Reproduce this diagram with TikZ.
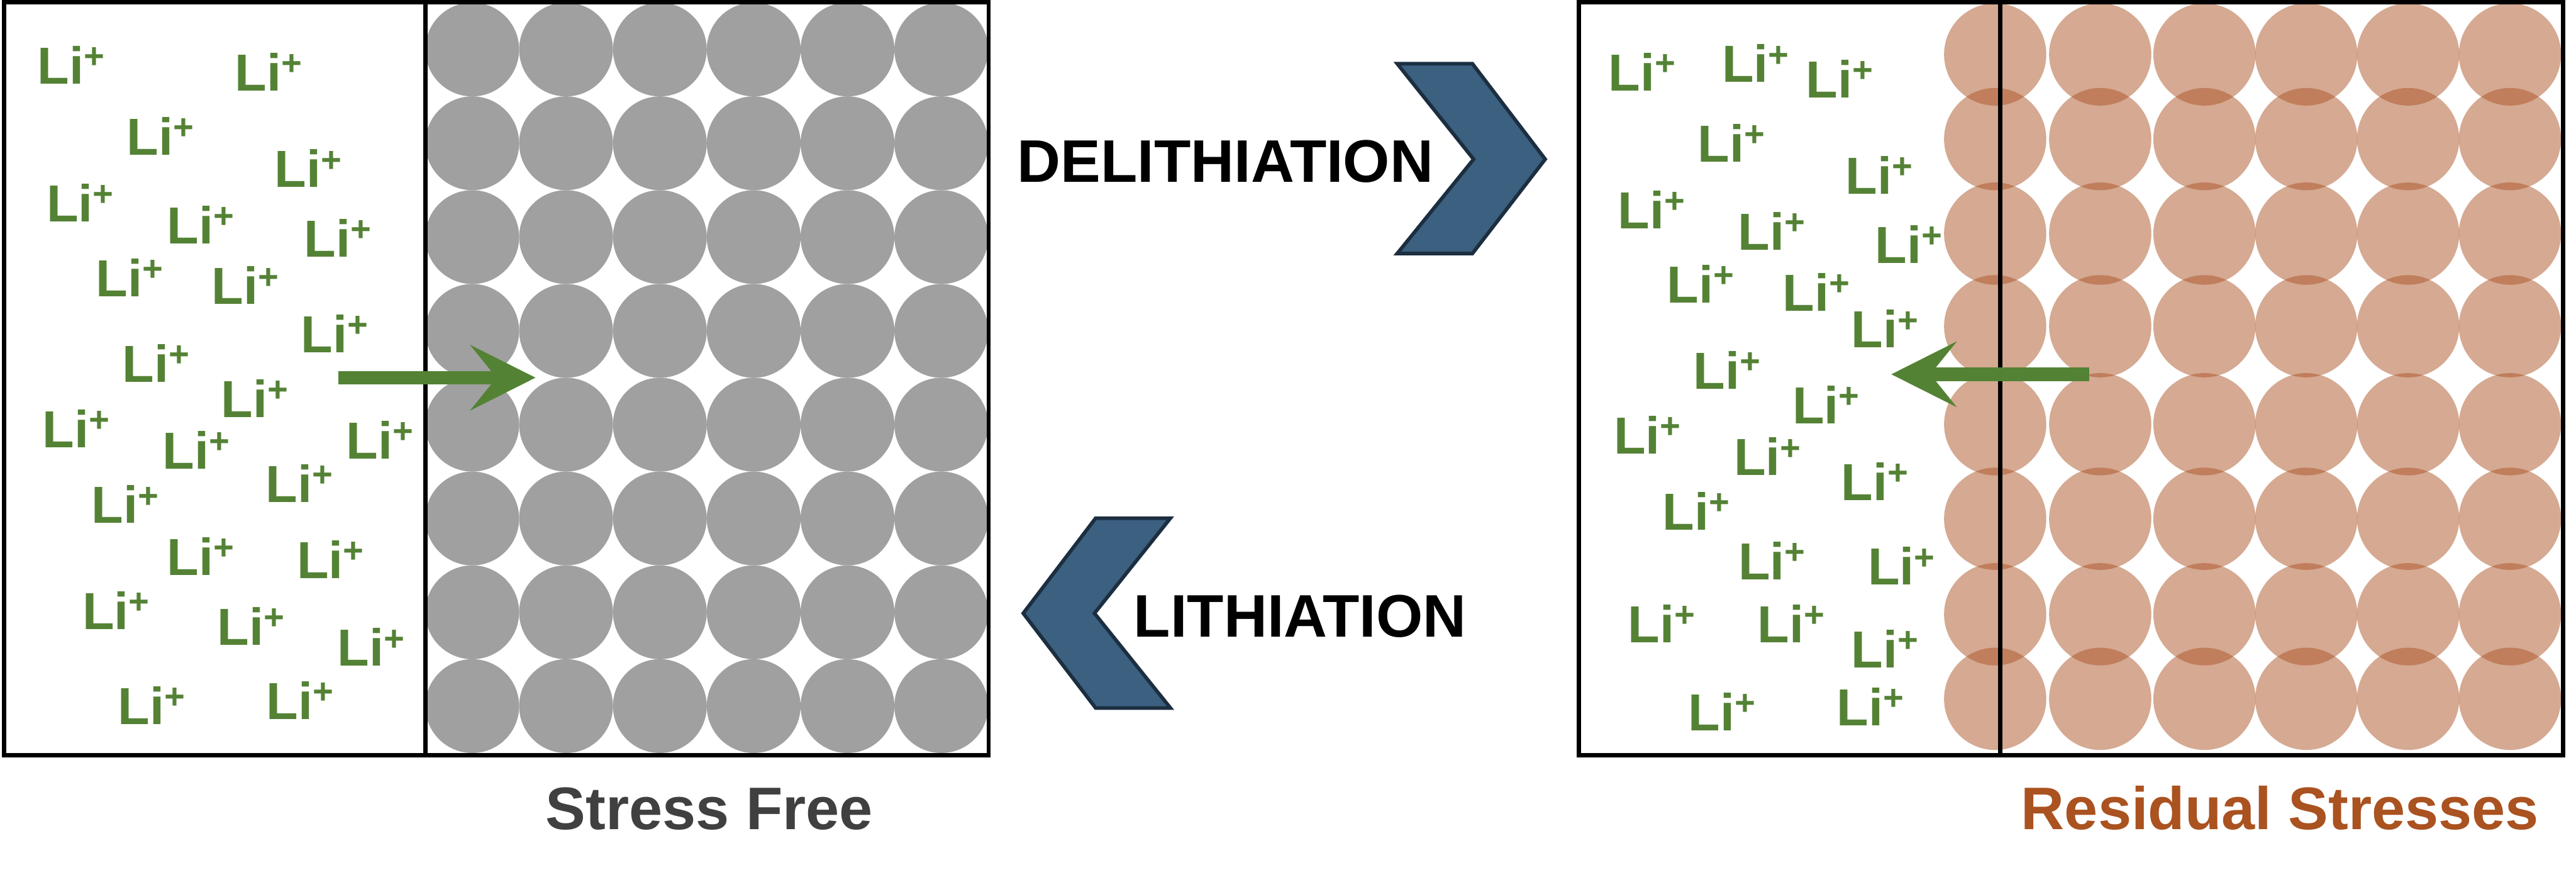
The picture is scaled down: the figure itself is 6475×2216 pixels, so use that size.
\documentclass[tikz,border=0pt]{standalone}
\usepackage{fontspec}
\setmainfont{Liberation Sans}
\usetikzlibrary{arrows.meta}
\definecolor{ligreen}{RGB}{84,130,53}
\definecolor{graycirc}{RGB}{160,160,160}
\definecolor{rust}{RGB}{171,84,38}
\definecolor{rusttext}{RGB}{170,82,32}
\definecolor{chevfill}{RGB}{59,96,128}
\definecolor{chevline}{RGB}{28,46,64}
\definecolor{sfgray}{RGB}{64,64,64}
\newcommand{\LiIon}{Li\raisebox{0.3em}{\fontsize{8.9pt}{8.9pt}\selectfont +}}
\begin{document}
\begin{tikzpicture}[x=0.1pt,y=-0.1pt,
  boxline/.style={draw=black,line width=1.1pt},
  li/.style={text=ligreen,font=\fontsize{13.1pt}{13.1pt}\selectfont\bfseries,inner sep=0pt,anchor=base west,xshift=-0.96pt},
  lab/.style={font=\fontsize{15.1pt}{15.1pt}\selectfont\bfseries,inner sep=0pt,anchor=base},
  chev/.style={fill=chevfill,draw=chevline,line width=0.9pt,line join=miter},
  ionarrow/.style={draw=ligreen,line width=3.4pt,-{Stealth[length=16.5pt,width=16.6pt,inset=6.7pt,line width=0pt]}},
  gcirc/.style={fill=graycirc},
  rcirc/.style={fill=rust,fill opacity=0.5}]
\useasboundingbox (0,0) rectangle (6475,2216);

% stress-free grid
\foreach \cx in {1187,1422.8,1658.6,1894.4,2130.2,2366}
  \foreach \cy in {124.3,360,595.7,831.4,1067,1302.8,1538.5,1774.2}
    \fill[gcirc] (\cx,\cy) circle[radius=11.79pt];

% residual-stress grid
\foreach \cx in {5015,5279,5541,5797,6053,6309}
  \foreach \cy in {136.8,349.5,587,819.7,1066,1303.5,1543.5,1756}
    \fill[rcirc] (\cx,\cy) circle[radius=12.85pt];

% boxes
\draw[boxline] (11,6) rectangle (2485,1897);
\draw[boxline] (1069,6) -- (1069,1897);
\draw[boxline] (3968,6) rectangle (6443,1897);
\draw[boxline] (5027,6) -- (5027,1897);

% ion arrows
\coordinate (inS) at (850,949);
\coordinate (inE) at (1346,949);
\draw[ionarrow] (inS) -- (inE);
\coordinate (outS) at (5251,940.5);
\coordinate (outE) at (4754,940.5);
\draw[ionarrow] (outS) -- (outE);

% Li+ ions, left
\foreach \x/\y [count=\i] in {102/211,598/228,326/390,698/471,125/557,428/612,772/645,249/745,540/765,764/886,315/960,564/1049,115/1124,417/1178,878/1153,676/1262,238/1315,428/1445,754/1454,215/1582,554/1621,856/1674,304/1820,677/1807}
  \node[li] (liL\i) at (\x,\y) {\LiIon};

% Li+ ions, right
\foreach \x/\y [count=\i] in {4051/228,4336/207,4547/246,4275/407,4647/487,4074/575,4376/628,4721/661,4198/761,4489/782,4661/874,4264/978,4513/1064,4064/1140,4366/1195,4636/1257,4187/1332,4377/1457,4703/1470,4100/1615,4425/1615,4661/1678,4252/1836,4625/1823}
  \node[li] (liR\i) at (\x,\y) {\LiIon};

% chevrons
\draw[chev] (3512,160) -- (3701,160) -- (3884,400) -- (3701,637) -- (3512,637) -- (3704,400) -- cycle;
\draw[chev] (2754,1302) -- (2942,1302) -- (2751,1541) -- (2942,1779) -- (2754,1779) -- (2572,1541) -- cycle;

% labels
\node[lab] (delith) at (3080,458) {DELITHIATION};
\node[lab] (lith) at (3268,1601) {LITHIATION};
\node[lab,text=sfgray] (sfree) at (1783,2085) {Stress Free};
\node[lab,text=rusttext] (resid) at (5731,2084) {Residual Stresses};
\end{tikzpicture}
\end{document}
